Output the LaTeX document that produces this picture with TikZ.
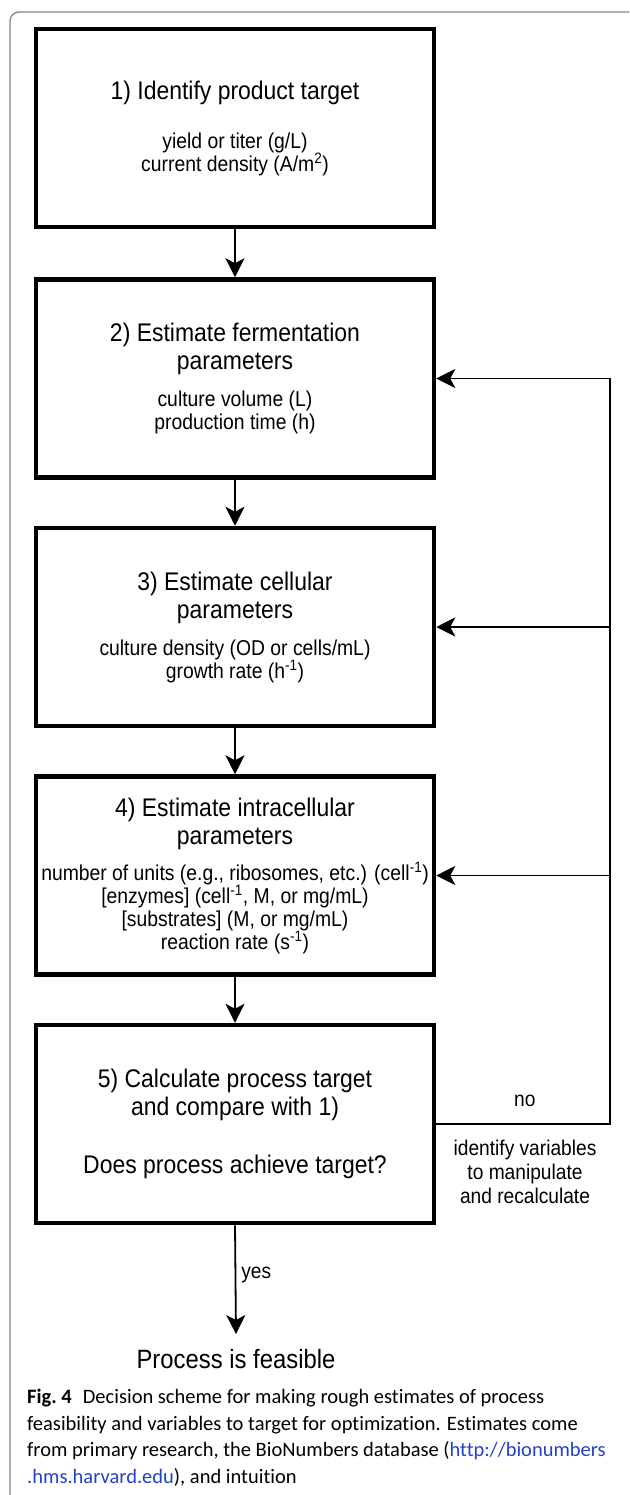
\documentclass[tikz,border=0pt]{standalone}
\usepackage{fontspec}
\setmainfont[FakeStretch=0.9]{Liberation Sans}
\newfontfamily\capfont[Ligatures=NoCommon]{Carlito}
\usetikzlibrary{arrows.meta}
\definecolor{linkblue}{RGB}{35,65,200}
\definecolor{framegray}{RGB}{130,130,130}
\newcommand\hdfont{\fontsize{25.5}{28}\selectfont}
\newcommand\sbfont{\fontsize{21.5}{28}\selectfont}
\begin{document}
\begin{tikzpicture}[x=1pt,y=-1pt,
  flowbox/.style={draw=black, line width=4.5pt, minimum width=398pt, minimum height=198pt, align=center, inner sep=0pt, font=\sbfont},
  arr/.style={line width=1.8pt, -{Stealth[length=19pt,width=19pt,inset=5pt]}},
  lbl/.style={font=\fontsize{21.3}{24}\selectfont, inner sep=3pt},
  capnode/.style={anchor=base west, inner sep=0pt, font=\capfont\fontsize{20.5}{23}\selectfont},
  frameline/.style={draw=framegray, line width=1.3pt, rounded corners=9pt}
]
\useasboundingbox (0,0) rectangle (629,1495);
\draw[frameline] (629,12) -- (10,12) -- (10,1495);

\node[flowbox] (b1) at (235,128) {\hdfont 1) Identify product target\\[21pt]\sbfont yield or titer (g/L)\\[-5pt]\sbfont current density (A/m\textsuperscript{2})};
\node[flowbox] (b2) at (235,378.5) {\hdfont 2) Estimate fermentation\\\hdfont parameters\\[9pt]\sbfont culture volume (L)\\[-5pt]\sbfont production time (h)};
\node[flowbox] (b3) at (235,627) {\hdfont 3) Estimate cellular\\\hdfont parameters\\[9pt]\sbfont culture density (OD or cells/mL)\\[-5pt]\sbfont growth rate (h\textsuperscript{-1})};
\node[flowbox] (b4) at (235,875.5) {\hdfont 4) Estimate intracellular\\\hdfont parameters\\[8pt]\sbfont number of units (e.g., ribosomes, etc.) (cell\textsuperscript{-1})\\[-5pt]\sbfont [enzymes] (cell\textsuperscript{-1}, M, or mg/mL)\\[-5pt]\sbfont [substrates] (M, or mg/mL)\\[-5pt]\sbfont reaction rate (s\textsuperscript{-1})};
\node[flowbox] (b5) at (235,1124) {\hdfont 5) Calculate process target\\\hdfont and compare with 1)\\[30pt]\hdfont Does process achieve target?};

\node[inner sep=0pt, font=\fontsize{26.5}{28}\selectfont] (feas) at (236,1359) {Process is feasible};

\coordinate (rc5) at (610,1124);
\coordinate (rc4) at (610,875.5);
\coordinate (rc3) at (610,627);
\coordinate (rc2) at (610,378.5);

\draw[arr] (b1.south) -- (b2.north);
\draw[arr] (b2.south) -- (b3.north);
\draw[arr] (b3.south) -- (b4.north);
\draw[arr] (b4.south) -- (b5.north);
\draw[arr] (b5.south) -- node[lbl, right=2pt, pos=0.46] (yes) {yes} ([yshift=15pt]feas.north);

\draw[arr] (b5.east) -- node[lbl, above=13pt, pos=0.51] (no) {no} (rc5) -- (rc2) -- (b2.east);
\draw[arr] (rc3) -- (b3.east);
\draw[arr] (rc4) -- (b4.east);

\node[lbl, anchor=north, align=center] (manip) at (525,1137) {identify variables\\to manipulate\\and recalculate};

\node[capnode] (cap1) at (27,1403) {\textbf{Fig.~4}\hspace{11pt}Decision scheme for making rough estimates of process};
\node[capnode] (cap2) at (27,1430) {feasibility and variables to target for optimization. Estimates come};
\node[capnode] (cap3) at (27,1456.5) {from primary research, the BioNumbers database (\textcolor{linkblue}{http://bionumbers}};
\node[capnode] (cap4) at (27,1483) {\textcolor{linkblue}{.hms.harvard.edu}), and intuition};
\end{tikzpicture}
\end{document}
